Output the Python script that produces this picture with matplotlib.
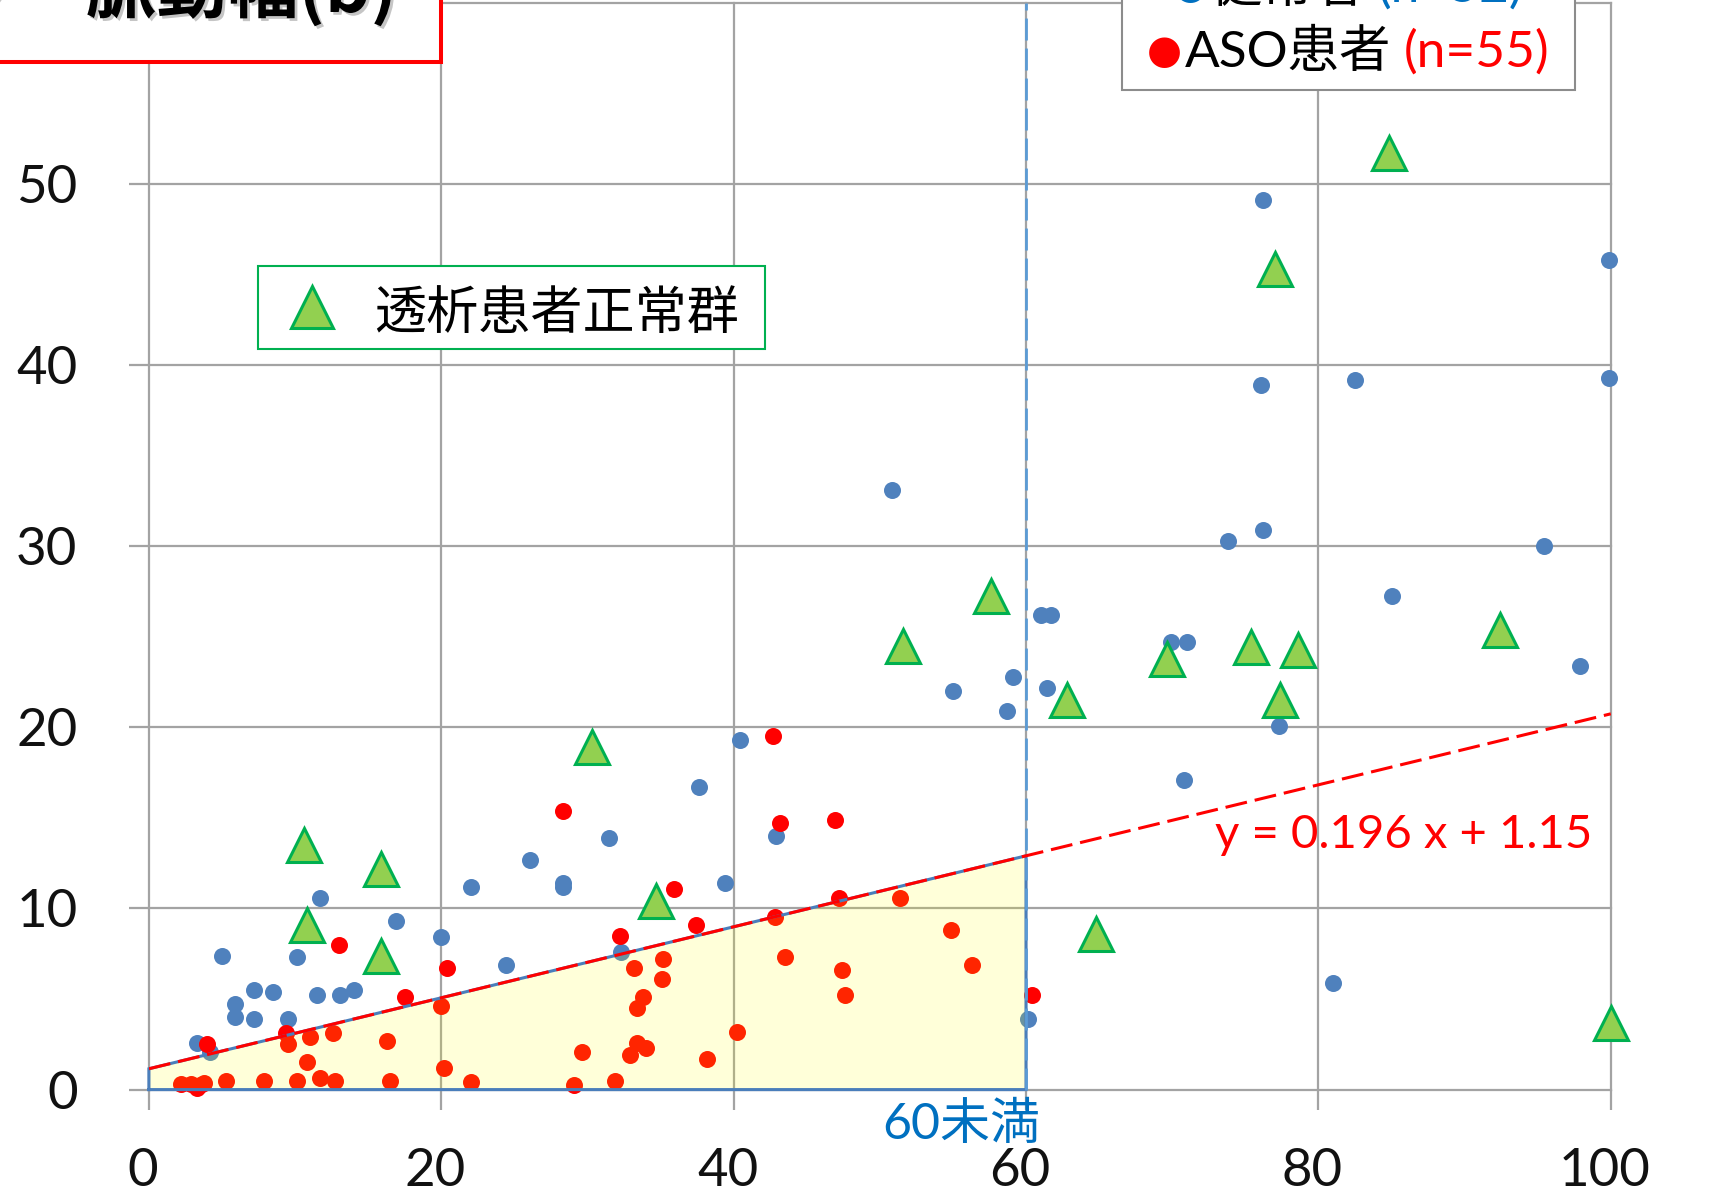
import matplotlib
matplotlib.use("Agg")
import matplotlib.pyplot as plt
import matplotlib.patheffects as pe
import matplotlib.transforms as mtransforms
from matplotlib.patches import Rectangle, Polygon
from matplotlib.lines import Line2D
import numpy as np

plt.rcParams['font.family'] = ['Lato', 'Noto Sans CJK JP', 'DejaVu Sans']

# ---- data -------------------------------------------------------------
healthy_x = [76.2, 99.9, 76.1, 82.5, 99.9, 50.8, 73.8, 76.2, 95.4, 85.0,
             61.0, 61.7, 69.9, 71.0, 59.1, 55.0, 61.4, 58.7, 97.9, 77.3,
             70.8, 81.0, 60.1, 40.4, 37.6, 31.5, 42.9, 39.4, 26.1, 28.3,
             28.3, 22.0, 24.4, 32.3, 20.0, 16.9, 11.7, 10.1, 5.0, 5.9,
             5.9, 7.2, 8.5, 7.2, 9.5, 11.5, 13.1, 14.0, 3.3, 4.2]
healthy_y = [49.1, 45.8, 38.9, 39.2, 39.3, 33.1, 30.3, 30.9, 30.0, 27.25,
             26.2, 26.2, 24.7, 24.7, 22.8, 22.0, 22.2, 20.9, 23.4, 20.1,
             17.1, 5.9, 3.9, 19.3, 16.7, 13.9, 14.0, 11.4, 12.7, 11.4,
             11.2, 11.2, 6.9, 7.6, 8.45, 9.3, 10.6, 7.3, 7.4, 4.7,
             4.0, 5.5, 5.4, 3.9, 3.9, 5.2, 5.2, 5.5, 2.6, 2.1]

aso_x = [42.7, 28.3, 43.2, 46.9, 35.9, 47.2, 51.4, 42.8, 37.4, 32.2,
         13.0, 20.4, 17.5, 20.0, 60.4, 54.9, 56.3, 47.4, 47.6, 43.5,
         33.2, 35.2, 35.1, 33.8, 33.4, 40.2, 38.15, 33.4, 34.0, 32.9,
         29.6, 31.9, 29.1, 20.2, 22.0, 16.3, 16.5, 12.6, 11.0, 9.4,
         9.5, 10.8, 11.7, 12.7, 10.1, 7.9, 5.3, 4.0, 2.2, 2.9,
         3.5, 3.8, 3.3]
aso_y = [19.5, 15.4, 14.7, 14.9, 11.05, 10.6, 10.6, 9.55, 9.1, 8.5,
         8.0, 6.7, 5.1, 4.6, 5.2, 8.8, 6.9, 6.6, 5.2, 7.3,
         6.7, 7.2, 6.1, 5.1, 4.5, 3.2, 1.7, 2.6, 2.3, 1.9,
         2.1, 0.5, 0.25, 1.2, 0.4, 2.7, 0.45, 3.1, 2.9, 3.1,
         2.5, 1.5, 0.65, 0.5, 0.5, 0.5, 0.45, 2.5, 0.3, 0.3,
         0.25, 0.35, 0.1]

dialysis_x = [84.85, 77.0, 57.6, 51.6, 30.3, 10.6, 15.9, 10.8, 15.9, 34.7,
              62.8, 69.65, 75.4, 78.6, 77.4, 92.4, 64.8, 100.0]
dialysis_y = [51.7, 45.3, 27.25, 24.5, 18.9, 13.5, 12.2, 9.1, 7.35, 10.4,
              21.5, 23.8, 24.45, 24.3, 21.5, 25.4, 8.6, 3.66]

fit_slope = 0.196
fit_intercept = 1.15
threshold_x = 60

x_ticks = [0, 20, 40, 60, 80, 100]
y_ticks = [0, 10, 20, 30, 40, 50, 60]
y_tick_labels = ["0", "10", "20", "30", "40", "50", ""]

title_text = "ウ　脈動幅(b)"
healthy_label = "健常者"
healthy_n = "(n=52)"
aso_label = "ASO患者"
aso_n = "(n=55)"
dialysis_label = "透析患者正常群"

# ---- colours ----------------------------------------------------------
GRID = "#a3a3a3"
BLUE_DOT = "#4F81BD"
RED_DOT = "#FF0000"
TRI_FACE = "#92D050"
TRI_EDGE = "#00B050"
TEXT_BLUE = "#0070C0"

# ---- figure / axes (pixel layout) -------------------------------------
W, H, DPI = 1717, 1197, 100
fig = plt.figure(figsize=(W / DPI, H / DPI), dpi=DPI)
fig.patch.set_facecolor("white")

ax_l, ax_r = 148.9, 1610.8
ax_b, ax_t = 1089.6, 3.0
ax = fig.add_axes([ax_l / W, 1 - ax_b / H, (ax_r - ax_l) / W, (ax_b - ax_t) / H])
ax.set_xlim(0, 100)
ax.set_ylim(0, 60)
for sp in ax.spines.values():
    sp.set_visible(False)
ax.set_xticks(x_ticks)
ax.set_yticks(y_ticks, labels=y_tick_labels)
ax.set_axisbelow(True)
ax.grid(True, color=GRID, lw=1.6)
for gl in ax.get_xgridlines() + ax.get_ygridlines():
    gl.set_clip_on(False)
ax.tick_params(axis="both", direction="out", length=14.4, width=1.6,
               color=GRID, labelsize=38, labelcolor="#111111")
ax.tick_params(axis="y", pad=37)
ax.tick_params(axis="x", pad=28)
# x tick labels sit a few pixels left of their tick
shift = mtransforms.ScaledTranslation(-6 / DPI, 0, fig.dpi_scale_trans)
for tk in ax.xaxis.get_major_ticks():
    tk.label1.set_transform(tk.label1.get_transform() + shift)

# ---- scatter series ---------------------------------------------------
ax.scatter(healthy_x, healthy_y, s=150, c=BLUE_DOT, linewidths=0,
           zorder=3, clip_on=False)
ax.scatter(aso_x, aso_y, s=150, c=RED_DOT, linewidths=0,
           zorder=3.1, clip_on=False)
ax.plot(dialysis_x, dialysis_y, ls="none", marker="^", ms=24,
        mfc=TRI_FACE, mec=TRI_EDGE, mew=2.2, zorder=7, clip_on=False)

# ---- region below the fitted line, left of the threshold --------------
y_at_thr = fit_slope * threshold_x + fit_intercept
reg_x = [0, 0, threshold_x, threshold_x]
reg_y = [0, fit_intercept, y_at_thr, 0]
ax.add_patch(Polygon(list(zip(reg_x, reg_y)), closed=True,
                     facecolor=(1.0, 1.0, 0.0, 0.15), edgecolor="none",
                     zorder=4))
ax.plot(reg_x + [reg_x[0]], reg_y + [reg_y[0]], color="#4A7EBB", lw=2.2,
        zorder=5, solid_joinstyle="miter", clip_on=False)

# threshold marker line
ax.plot([threshold_x, threshold_x], [0, 60], color="#5B9BD5", lw=2.0,
        ls=(0, (7.9, 2.9)), zorder=6, clip_on=False)

# fitted line
fx = np.array([0, 100])
ax.plot(fx, fit_slope * fx + fit_intercept, color="red", lw=2.2,
        ls=(0, (7.2, 2.6)), zorder=6)

ax.text(85.8, 13.34, f"y = {fit_slope:.3f} x + {fit_intercept:.2f}",
        color="red", fontsize=34, ha="center", va="baseline", zorder=8)
ax.text(55.6, -2.73, f"{threshold_x}未満", color=TEXT_BLUE, fontsize=36,
        ha="center", va="baseline", clip_on=False, zorder=8)

# ---- helpers in figure pixels -----------------------------------------
def fx_(px):
    return px / W


def fy_(py):
    return 1 - py / H


def add_rect(x0, y0, x1, y1, edge, lw, z=10):
    r = Rectangle((fx_(x0), fy_(y1)), (x1 - x0) / W, (y1 - y0) / H,
                  transform=fig.transFigure, facecolor="white",
                  edgecolor=edge, lw=lw, zorder=z)
    fig.add_artist(r)


def text_runs(runs, cx, baseline):
    """Lay out differently coloured pieces of one line, centred on cx."""
    renderer = fig.canvas.get_renderer()
    items = []
    for s, color, fam, fs, gap, rise in runs:
        t = fig.text(0, fy_(baseline - rise), s, color=color, family=fam,
                     fontsize=fs, ha="left", va="baseline", zorder=12)
        w = t.get_window_extent(renderer).width
        items.append((t, w, gap))
    total = sum(w + g for _, w, g in items)
    x = cx - total / 2
    for t, w, g in items:
        t.set_x(fx_(x))
        x += w + g


# ---- title box (top left) ---------------------------------------------
add_rect(-20, -20, 441, 62, "#FF0000", 2.9)
fig.text(fx_(-56), fy_(12), title_text, fontsize=51, weight="bold",
         family=["Noto Sans CJK JP"], color="black", ha="left",
         va="baseline", zorder=12,
         path_effects=[pe.SimplePatchShadow(offset=(2, -2),
                                            shadow_rgbFace="0.5", alpha=0.45),
                       pe.Normal()])

# ---- group legend (top right) -----------------------------------------
add_rect(1122, -20, 1575, 90, "#8C8C8C", 1.5)
dot_fam = ["DejaVu Sans"]
txt_fam = ["Lato", "Noto Sans CJK JP"]
text_runs([("●", TEXT_BLUE, dot_fam, 29, 3, 4),
           (healthy_label, "black", txt_fam, 37, 12, 0),
           (healthy_n, TEXT_BLUE, txt_fam, 37, 0, 0)], 1348, 2)
text_runs([("●", RED_DOT, dot_fam, 29, 3, 4),
           (aso_label, "black", txt_fam, 37, 12, 0),
           (aso_n, RED_DOT, txt_fam, 37, 0, 0)], 1348, 67)

# ---- dialysis legend --------------------------------------------------
add_rect(258, 266, 765, 349, TRI_EDGE, 1.5)
fig.add_artist(Line2D([fx_(312)], [fy_(307)], transform=fig.transFigure,
                      ls="none", marker="^", ms=30, mfc=TRI_FACE,
                      mec=TRI_EDGE, mew=2.2, zorder=12))
fig.text(fx_(374), fy_(329), dialysis_label, fontsize=37.5,
         family=["Noto Sans CJK JP"], color="black", ha="left",
         va="baseline", zorder=12)

fig.savefig("out.png", dpi=DPI, facecolor="white")
